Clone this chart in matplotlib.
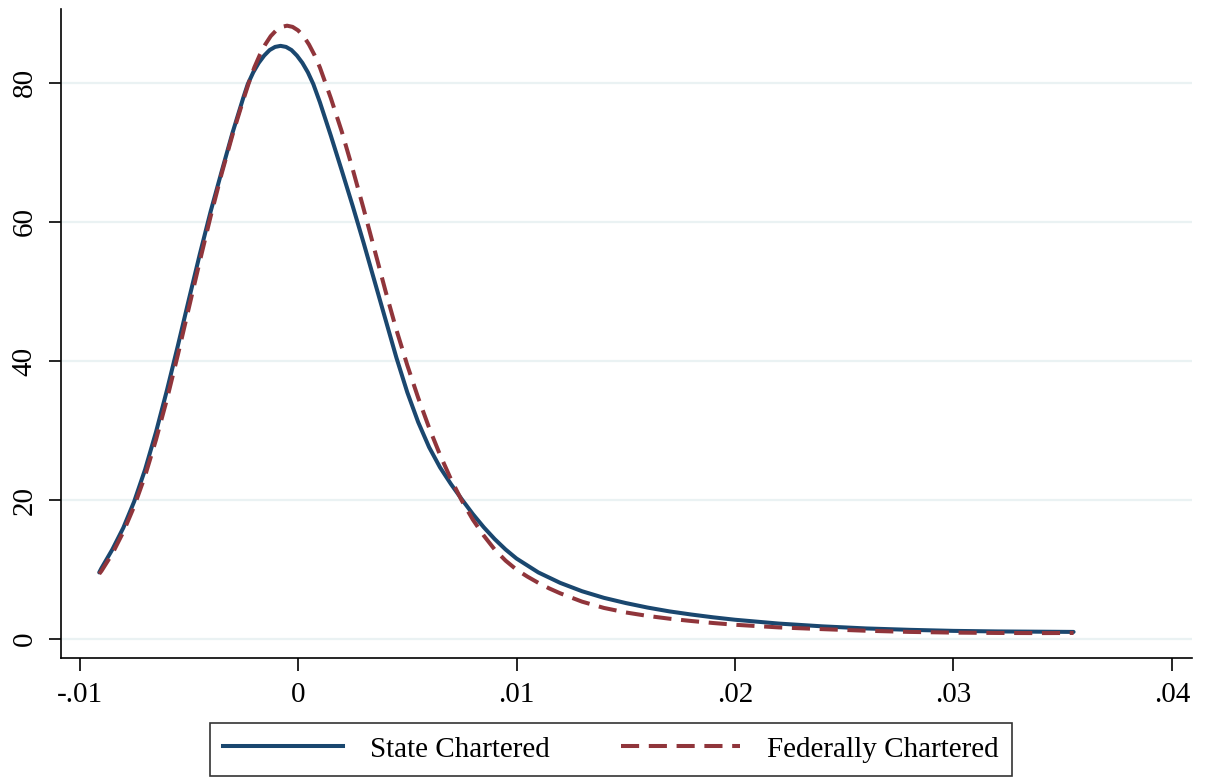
import matplotlib
matplotlib.use("Agg")
import matplotlib.pyplot as plt
from matplotlib.lines import Line2D

# ---- data ----
state_x = [-0.0091, -0.009, -0.0085, -0.008, -0.0075, -0.007, -0.0065, -0.006, -0.0055,
           -0.005, -0.0045, -0.004, -0.0035, -0.003, -0.0025, -0.0023, -0.00205, -0.0018,
           -0.00155, -0.0013, -0.00105, -0.0008, -0.00055, -0.0003, -0.00005, 0.0002,
           0.00045, 0.0007, 0.001, 0.0015, 0.002, 0.0025, 0.003, 0.0035, 0.004, 0.0045,
           0.005, 0.0055, 0.006, 0.0065, 0.007, 0.0075, 0.008, 0.0085, 0.009, 0.0095,
           0.01, 0.011, 0.012, 0.013, 0.014, 0.015, 0.016, 0.017, 0.018, 0.019, 0.02,
           0.022, 0.024, 0.026, 0.028, 0.03, 0.032, 0.034, 0.0355]
state_y = [9.6, 10.2, 12.9, 16.0, 19.8, 24.4, 29.8, 35.8, 42.2,
           48.8, 55.3, 61.5, 67.2, 72.8, 77.9, 79.8, 81.5, 82.85,
           83.9, 84.7, 85.15, 85.3, 85.15, 84.7, 83.9, 82.85,
           81.5, 79.8, 77.2, 72.4, 67.4, 62.3, 57.0, 51.5, 46.0, 40.5,
           35.5, 31.2, 27.6, 24.7, 22.3, 20.1, 18.0, 16.1, 14.4, 12.9,
           11.6, 9.6, 8.1, 6.9, 5.95, 5.2, 4.55, 4.0, 3.55, 3.15, 2.8,
           2.25, 1.85, 1.55, 1.35, 1.2, 1.12, 1.08, 1.05]

fed_x = [-0.0091, -0.009, -0.0085, -0.008, -0.0075, -0.007, -0.0065, -0.006, -0.0055,
         -0.005, -0.0045, -0.004, -0.0035, -0.003, -0.0025, -0.00225, -0.002, -0.00175,
         -0.0015, -0.00125, -0.001, -0.00075, -0.0005, -0.00025, 0.0, 0.00025, 0.0005,
         0.00075, 0.001, 0.00125, 0.0015, 0.002, 0.0025, 0.003, 0.0035, 0.004, 0.0045,
         0.005, 0.0055, 0.006, 0.0065, 0.007, 0.0075, 0.008, 0.0085, 0.009, 0.0095,
         0.01, 0.0105, 0.011, 0.0115, 0.012, 0.013, 0.014, 0.015, 0.016, 0.017, 0.018,
         0.019, 0.02, 0.022, 0.024, 0.026, 0.028, 0.03, 0.032, 0.034, 0.0355]
fed_y = [9.4, 9.8, 12.3, 15.4, 19.1, 23.5, 28.7, 34.5, 40.9,
         47.6, 54.3, 60.8, 66.9, 72.5, 77.6, 80.0, 82.2, 84.0,
         85.5, 86.7, 87.53, 88.03, 88.2, 88.03, 87.53, 86.7, 85.5,
         84.0, 82.2, 80.0, 77.8, 73.0, 67.6, 61.9, 56.0, 50.1, 44.5,
         39.4, 34.7, 30.4, 26.5, 23.0, 19.9, 17.2, 14.9, 12.9, 11.3,
         10.0, 9.0, 8.1, 7.3, 6.6, 5.4, 4.5, 3.85, 3.35, 2.95, 2.62,
         2.33, 2.08, 1.7, 1.45, 1.22, 1.05, 0.95, 0.9, 0.88, 0.9]

x_ticks = [-0.01, 0.0, 0.01, 0.02, 0.03, 0.04]
x_ticklabels = ["-.01", "0", ".01", ".02", ".03", ".04"]
y_ticks = [0, 20, 40, 60, 80]
y_ticklabels = ["0", "20", "40", "60", "80"]
series_labels = ["State Chartered", "Federally Chartered"]

# ---- style ----
navy = "#1A476F"
maroon = "#90353B"
grid_col = "#EAF2F3"
fs = 21
font = "Liberation Serif"

W, H = 1208, 777
fig = plt.figure(figsize=(W / 100, H / 100), dpi=100)
fig.patch.set_facecolor("white")
ax = fig.add_axes([61 / W, 1 - 658 / H, (1192 - 61) / W, (658 - 9) / H])

for yv in y_ticks:
    ax.axhline(yv, color=grid_col, lw=1.6, zorder=1)

lw = 2.9
dash = (4.5, 2.4)
ax.plot(state_x, state_y, color=navy, lw=lw, solid_capstyle="round",
        solid_joinstyle="round", zorder=3)
ax.plot(fed_x, fed_y, color=maroon, lw=lw, dashes=dash,
        dash_joinstyle="round", zorder=4)

ax.set_xlim(-0.01085, 0.04092)
ax.set_ylim(-2.7, 90.6)

ax.set_xticks(x_ticks)
ax.set_xticklabels(x_ticklabels, fontsize=fs, family=font)
ax.set_yticks(y_ticks)
ax.set_yticklabels(y_ticklabels, fontsize=fs, family=font, rotation=90, va="center")

for s in ["top", "right"]:
    ax.spines[s].set_visible(False)
for s in ["left", "bottom"]:
    ax.spines[s].set_linewidth(1.2)
    ax.spines[s].set_color("black")
ax.tick_params(axis="both", length=9, width=1.2, color="black")
ax.tick_params(axis="x", pad=8)
ax.tick_params(axis="y", pad=8)

handles = [Line2D([], [], color=navy, lw=lw),
           Line2D([], [], color=maroon, lw=lw, dashes=dash)]
leg = fig.legend(handles, series_labels, loc="upper left",
                 bbox_to_anchor=(210 / W, 1 - 723 / H), ncol=2,
                 prop={"family": font, "size": fs},
                 handlelength=4.1, handletextpad=0.92, columnspacing=2.45,
                 borderpad=0.45, borderaxespad=0.0, fancybox=False,
                 frameon=True)
leg.get_frame().set_edgecolor("black")
leg.get_frame().set_linewidth(1.2)

fig.savefig("out.png", dpi=100, facecolor="white")
